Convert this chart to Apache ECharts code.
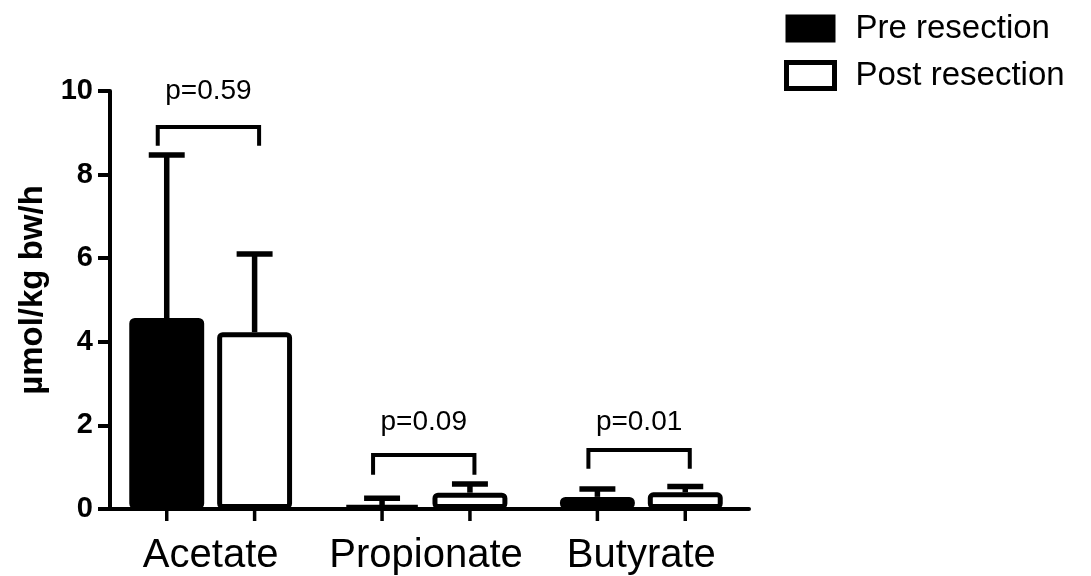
<!DOCTYPE html>
<html><head><meta charset="utf-8">
<script src="https://cdn.jsdelivr.net/npm/echarts@6/dist/echarts.min.js"></script>
<style>html,body{margin:0;padding:0;background:#fff}#c{width:1091px;height:576px}</style>
</head><body><div id="c"></div>
<script>
const categories = ['Acetate', 'Propionate', 'Butyrate'];
const seriesNames = ['Pre resection', 'Post resection'];
const preMean = [4.57, 0.08, 0.29];
const postMean = [4.23, 0.39, 0.40];
const preUpper = [8.47, 0.26, 0.48];
const postUpper = [6.10, 0.60, 0.54];
const bracketTop = [9.14, 1.29, 1.41];
const bracketLeg = [8.69, 0.82, 0.96];
const pLabelY = [10.0, 2.08, 2.08];
const pLabels = ['p=0.59', 'p=0.09', 'p=0.01'];
const yMin = 0, yMax = 10, yStep = 2;

const FONT = 'Liberation Sans, Arial, Helvetica, sans-serif';
const CAT_GAP = 0.244, BAR_GAP = 0.173;

function barW(api) {
  const band = api.size([1, 0])[0];
  return band * (1 - CAT_GAP) / (2 + BAR_GAP);
}
function offset(api, side) {
  const bw = barW(api);
  return side * bw * (1 + BAR_GAP) / 2;
}

function errorRender(side) {
  return function (params, api) {
    const i = api.value(0);
    const p0 = api.coord([i, api.value(1)]);
    const p1 = api.coord([i, api.value(2)]);
    const z0 = api.coord([i, 0]);
    const x = p0[0] + offset(api, side);
    const half = barW(api) * 0.24;
    const st = { stroke: '#000', lineWidth: 5.5 };
    return {
      type: 'group',
      children: [
        { type: 'line', shape: { x1: x, y1: p0[1], x2: x, y2: p1[1] }, style: st },
        { type: 'line', shape: { x1: x - half, y1: p1[1], x2: x + half, y2: p1[1] }, style: st },
        { type: 'line', shape: { x1: x, y1: z0[1], x2: x, y2: z0[1] + 12 }, style: { stroke: '#000', lineWidth: 3.5 } }
      ]
    };
  };
}

function bracketRender(params, api) {
  const i = api.value(0);
  const top = api.coord([i, api.value(1)]);
  const leg = api.coord([i, api.value(2)]);
  const lab = api.coord([i, api.value(3)]);
  const bw = barW(api);
  const xl = top[0] + offset(api, -1) - bw * 0.12;
  const xr = top[0] + offset(api, 1) + bw * 0.06;
  return {
    type: 'group',
    children: [
      { type: 'polyline', shape: { points: [[xl, leg[1]], [xl, top[1]], [xr, top[1]], [xr, leg[1]]] },
        style: { stroke: '#000', lineWidth: 4, fill: null } },
      { type: 'text', x: (xl + xr) / 2, y: lab[1],
        style: { text: pLabels[params.dataIndex], font: '28px ' + FONT, fill: '#000', align: 'center', verticalAlign: 'middle' } }
    ]
  };
}

const chart = echarts.init(document.getElementById('c'));
chart.setOption({
  backgroundColor: '#fff',
  animation: false,
  grid: { left: 103, top: 91, bottom: 65, width: 646 },
  legend: {
    data: [
      { name: seriesNames[0], icon: 'rect', itemStyle: { color: '#000', borderColor: '#000', borderWidth: 2 } },
      { name: seriesNames[1], icon: 'rect', itemStyle: { color: '#fff', borderColor: '#000', borderWidth: 5 } }
    ],
    orient: 'vertical',
    left: 784, top: 12, padding: 0,
    itemWidth: 48, itemHeight: 26, itemGap: 14,
    textStyle: { fontSize: 33, color: '#000', fontFamily: FONT, padding: [0, 0, 0, 16] }
  },
  xAxis: {
    type: 'category',
    data: categories,
    axisLine: { lineStyle: { color: '#000', width: 4 } },
    axisTick: { show: false },
    axisLabel: { fontSize: 40, color: '#000', fontFamily: FONT, margin: 27, interval: 0 }
  },
  yAxis: {
    type: 'value',
    min: yMin, max: yMax, interval: yStep,
    offset: -7,
    name: 'µmol/kg bw/h',
    nameLocation: 'middle',
    nameRotate: 90,
    nameGap: 59,
    nameTextStyle: { fontSize: 33, fontWeight: 'bold', color: '#000', fontFamily: FONT, padding: [0, 0, 0, 20] },
    axisLine: { show: true, lineStyle: { color: '#000', width: 4 } },
    axisTick: { show: true, length: 12, lineStyle: { color: '#000', width: 4 } },
    axisLabel: { fontSize: 29, fontWeight: 'bold', color: '#000', fontFamily: FONT, margin: 17 },
    splitLine: { show: false }
  },
  series: [
    { name: seriesNames[0], type: 'bar', data: preMean, barGap: (BAR_GAP * 100) + '%', barCategoryGap: (CAT_GAP * 100) + '%',
      itemStyle: { color: '#000', borderColor: '#000', borderWidth: 5, borderRadius: 3 } },
    { name: seriesNames[1], type: 'bar', data: postMean,
      itemStyle: { color: '#fff', borderColor: '#000', borderWidth: 5, borderRadius: 3 } },
    { type: 'custom', renderItem: errorRender(-1), z: 5, clip: false,
      data: categories.map((c, i) => [i, preMean[i], preUpper[i]]) },
    { type: 'custom', renderItem: errorRender(1), z: 5, clip: false,
      data: categories.map((c, i) => [i, postMean[i], postUpper[i]]) },
    { type: 'custom', renderItem: bracketRender, z: 5, clip: false,
      data: categories.map((c, i) => [i, bracketTop[i], bracketLeg[i], pLabelY[i]]) }
  ]
});
</script></body></html>
